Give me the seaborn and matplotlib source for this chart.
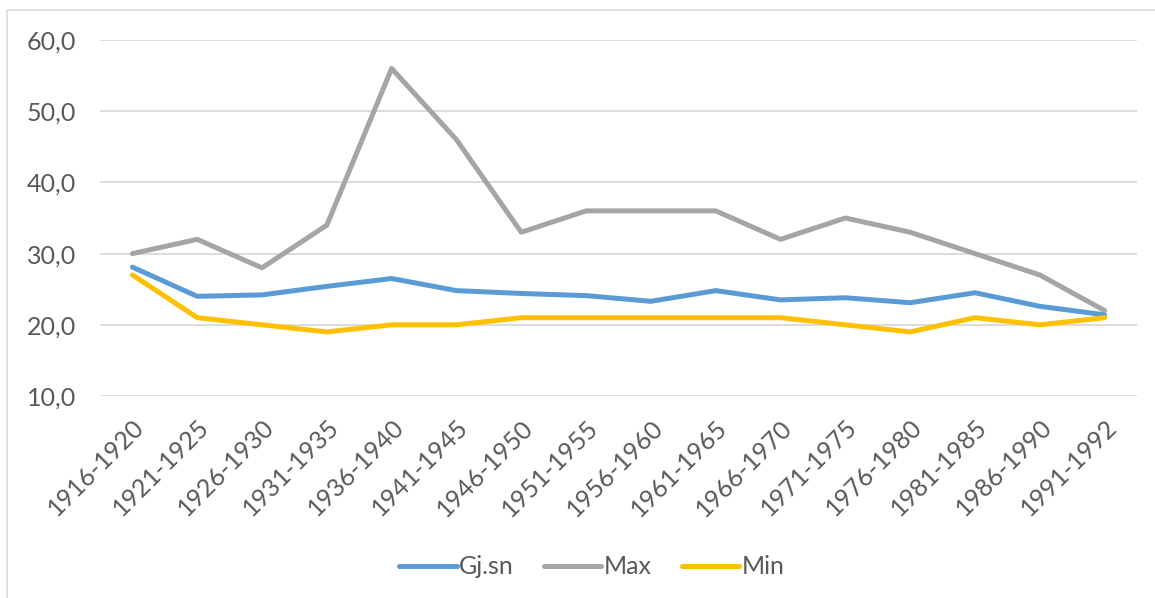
import numpy as np
import pandas as pd
import matplotlib
matplotlib.use("Agg")
import matplotlib.pyplot as plt
import seaborn as sns
from matplotlib.lines import Line2D

periods = ["1916-1920", "1921-1925", "1926-1930", "1931-1935", "1936-1940",
           "1941-1945", "1946-1950", "1951-1955", "1956-1960", "1961-1965",
           "1966-1970", "1971-1975", "1976-1980", "1981-1985", "1986-1990",
           "1991-1992"]
gj_sn = [28.1, 24.0, 24.2, 25.4, 26.5, 24.8, 24.4, 24.1, 23.3, 24.8,
         23.5, 23.8, 23.1, 24.5, 22.6, 21.4]
max_vals = [30, 32, 28, 34, 56, 46, 33, 36, 36, 36, 32, 35, 33, 30, 27, 22]
min_vals = [27, 21, 20, 19, 20, 20, 21, 21, 21, 21, 21, 20, 19, 21, 20, 21]

series_names = ["Gj.sn", "Max", "Min"]
colors = ["#5B9BD5", "#A5A5A5", "#FFC000"]

df = pd.DataFrame({"period": periods, "Gj.sn": gj_sn, "Max": max_vals, "Min": min_vals})
long = df.melt(id_vars="period", var_name="serie", value_name="verdi")
long["x"] = long["period"].map({p: i for i, p in enumerate(periods)})

sns.set_style("white")
plt.rcParams["font.family"] = ["Lato", "DejaVu Sans"]
txt = "#595959"

fig = plt.figure(figsize=(11.55, 5.98), dpi=100)
ax = fig.add_axes([100 / 1155, 1 - 396 / 598, 1037 / 1155, 356 / 598])

sns.lineplot(data=long, x="x", y="verdi", hue="serie", hue_order=series_names,
             palette=colors, linewidth=3.6, ax=ax, legend=False, sort=False)

ax.set_xlim(-0.5, len(periods) - 0.5)
ax.set_ylim(10, 60)
ax.set_yticks(np.arange(10, 61, 10))
ax.set_yticklabels([f"{v:.1f}".replace(".", ",") for v in np.arange(10, 61, 10)])
ax.set_xticks(range(len(periods)))
ax.set_xticklabels(periods, rotation=45, ha="right", rotation_mode="anchor")
ax.tick_params(axis="both", length=0, labelsize=18, colors=txt)
ax.tick_params(axis="y", pad=17)
ax.tick_params(axis="x", pad=14)
ax.grid(axis="y", color="#D9D9D9", linewidth=1.3)
ax.set_axisbelow(True)
for s in ax.spines.values():
    s.set_visible(False)
ax.set_xlabel("")
ax.set_ylabel("")

handles = [Line2D([], [], color=c, linewidth=3.6, solid_capstyle="round") for c in colors]
fig.legend(handles, series_names, loc="center", bbox_to_anchor=(592 / 1155, 1 - 567 / 598),
           ncol=3, frameon=False, fontsize=18, handlelength=2.3, handletextpad=0.1,
           columnspacing=1.2, labelcolor=txt)

# light frame around the chart area (left and top edges visible)
fig.add_artist(Line2D([7 / 1155, 7 / 1155, 1.0], [0.0, 1 - 10 / 598, 1 - 10 / 598],
                      transform=fig.transFigure, color="#D9D9D9", linewidth=1.2))

fig.savefig("out.png", dpi=100, facecolor="white")
